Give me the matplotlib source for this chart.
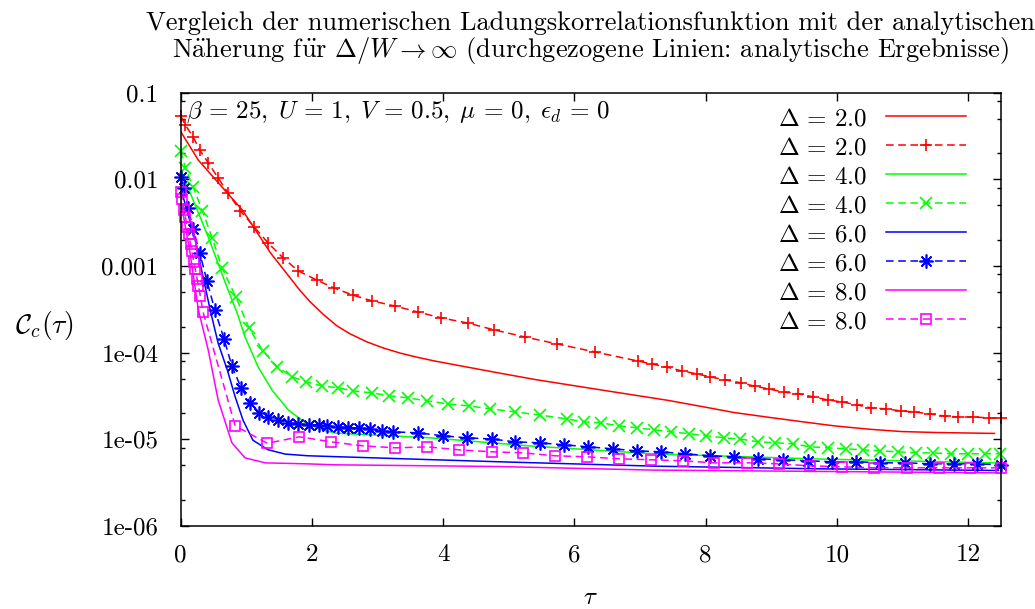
import matplotlib
matplotlib.use("Agg")
import matplotlib.pyplot as plt
from matplotlib.ticker import FixedLocator, NullFormatter

plt.rcParams["font.family"] = ["cmr10", "DejaVu Serif"]
plt.rcParams["mathtext.fontset"] = "cm"
plt.rcParams["axes.unicode_minus"] = False
plt.rcParams["font.size"] = 18

# analytic curves (solid) and numerical data (dashed + points), C_c(tau)
tau_a2 = [0.0, 0.27, 0.94, 1.37, 1.82, 1.97, 2.18, 2.38, 2.58, 2.84, 3.09, 3.35, 3.60,
          3.86, 4.11, 4.37, 4.87, 5.40, 5.90, 6.40, 6.91, 7.42, 7.93, 8.43, 8.95, 9.46,
          9.96, 10.48, 10.98, 11.49, 12.40]
c_a2 = [3.55e-2, 1.66e-2, 4.42e-3, 1.41e-3, 5.2e-4, 3.88e-4, 2.73e-4, 2.04e-4, 1.65e-4,
        1.33e-4, 1.13e-4, 9.86e-5, 8.87e-5, 8.04e-5, 7.41e-5, 6.81e-5, 5.79e-5, 4.90e-5,
        4.27e-5, 3.72e-5, 3.24e-5, 2.82e-5, 2.40e-5, 2.04e-5, 1.80e-5, 1.60e-5, 1.43e-5,
        1.31e-5, 1.23e-5, 1.20e-5, 1.17e-5]

tau_n2 = [0.0, 0.07, 0.19, 0.29, 0.42, 0.57, 0.72, 0.91, 1.12, 1.33, 1.56, 1.79, 2.07,
          2.33, 2.63, 2.92, 3.26, 3.61, 3.97, 4.37, 4.78, 5.24, 5.74, 6.31, 6.97, 7.18,
          7.41, 7.64, 7.86, 8.07, 8.30, 8.53, 8.75, 8.97, 9.19, 9.41, 9.63, 9.86, 10.08,
          10.30, 10.52, 10.74, 10.97, 11.18, 11.41, 11.64, 11.85, 12.08, 12.31, 12.50]
c_n2 = [5.38e-2, 4.24e-2, 3.08e-2, 2.18e-2, 1.55e-2, 1.04e-2, 6.97e-3, 4.32e-3, 2.82e-3,
        1.85e-3, 1.24e-3, 8.8e-4, 6.9e-4, 5.6e-4, 4.6e-4, 3.95e-4, 3.46e-4, 2.95e-4,
        2.52e-4, 2.2e-4, 1.83e-4, 1.52e-4, 1.26e-4, 1.02e-4, 8.0e-5, 7.4e-5, 6.8e-5,
        6.15e-5, 5.7e-5, 5.25e-5, 4.85e-5, 4.5e-5, 4.1e-5, 3.8e-5, 3.5e-5, 3.35e-5,
        3.1e-5, 2.85e-5, 2.7e-5, 2.5e-5, 2.3e-5, 2.25e-5, 2.13e-5, 2.07e-5, 1.96e-5,
        1.86e-5, 1.81e-5, 1.81e-5, 1.77e-5, 1.77e-5]

tau_a4 = [0.0, 0.42, 0.68, 0.86, 0.98, 1.18, 1.39, 1.64, 1.90, 2.16, 2.36, 3.81, 5.33,
          7.24, 9.71, 12.49]
c_a4 = [1.29e-2, 2.16e-3, 6.37e-4, 2.87e-4, 1.52e-4, 6.84e-5, 3.72e-5, 2.18e-5, 1.55e-5,
        1.28e-5, 1.18e-5, 1.04e-5, 8.38e-6, 6.78e-6, 5.93e-6, 5.33e-6]

tau_n4 = [0.0, 0.07, 0.19, 0.33, 0.48, 0.63, 0.84, 1.04, 1.25, 1.47, 1.70, 1.91, 2.16,
          2.40, 2.63, 2.91, 3.18, 3.46, 3.76, 4.07, 4.39, 4.72, 5.09, 5.47, 5.88, 6.14,
          6.40, 6.68, 6.95, 7.21, 7.47, 7.75, 8.00, 8.28, 8.52, 8.80, 9.06, 9.33, 9.59,
          9.86, 10.13, 10.39, 10.66, 10.93, 11.20, 11.47, 11.73, 11.99, 12.25, 12.49]
c_n4 = [2.13e-2, 1.36e-2, 8.17e-3, 4.33e-3, 2.11e-3, 9.5e-4, 4.40e-4, 1.93e-4, 1.05e-4,
        6.85e-5, 5.26e-5, 4.60e-5, 4.14e-5, 3.93e-5, 3.62e-5, 3.44e-5, 3.18e-5, 3.01e-5,
        2.78e-5, 2.56e-5, 2.43e-5, 2.25e-5, 2.07e-5, 1.91e-5, 1.72e-5, 1.59e-5, 1.55e-5,
        1.43e-5, 1.36e-5, 1.29e-5, 1.22e-5, 1.16e-5, 1.10e-5, 1.04e-5, 1.01e-5, 9.35e-6,
        9.12e-6, 8.87e-6, 8.20e-6, 7.98e-6, 7.78e-6, 7.57e-6, 7.36e-6, 7.18e-6, 6.98e-6,
        6.98e-6, 6.81e-6, 6.81e-6, 6.81e-6, 6.81e-6]

tau_a6 = [0.0, 0.22, 0.45, 0.57, 0.71, 0.83, 0.95, 1.10, 1.33, 1.59, 1.94, 2.36, 4.88,
          7.24, 9.71, 12.46]
c_a6 = [7.94e-3, 2.00e-3, 3.09e-4, 1.29e-4, 6.31e-5, 3.09e-5, 1.66e-5, 9.77e-6, 7.59e-6,
        6.76e-6, 6.46e-6, 6.31e-6, 5.50e-6, 4.90e-6, 4.57e-6, 4.37e-6]

tau_n6 = [0.0, 0.05, 0.11, 0.19, 0.29, 0.40, 0.52, 0.66, 0.78, 0.92, 1.06, 1.20, 1.33,
          1.49, 1.64, 1.79, 1.95, 2.10, 2.23, 2.40, 2.55, 2.72, 2.89, 3.06, 3.23, 3.61,
          3.99, 4.36, 4.74, 5.09, 5.47, 5.84, 6.20, 6.58, 6.95, 7.32, 7.68, 8.07, 8.43,
          8.80, 9.18, 9.56, 9.93, 10.29, 10.66, 11.03, 11.41, 11.78, 12.14, 12.50]
c_n6 = [1.06e-2, 7.96e-3, 4.68e-3, 2.68e-3, 1.42e-3, 6.73e-4, 3.11e-4, 1.44e-4, 7.03e-5,
        3.93e-5, 2.64e-5, 2.02e-5, 1.82e-5, 1.67e-5, 1.55e-5, 1.51e-5, 1.47e-5, 1.47e-5,
        1.43e-5, 1.39e-5, 1.36e-5, 1.36e-5, 1.32e-5, 1.25e-5, 1.22e-5, 1.19e-5, 1.10e-5,
        1.04e-5, 1.01e-5, 9.35e-6, 9.12e-6, 8.65e-6, 8.20e-6, 7.78e-6, 7.36e-6, 7.18e-6,
        6.81e-6, 6.46e-6, 6.28e-6, 5.96e-6, 5.81e-6, 5.65e-6, 5.51e-6, 5.51e-6, 5.36e-6,
        5.36e-6, 5.22e-6, 5.22e-6, 5.22e-6, 5.08e-6]

tau_a8 = [0.0, 0.14, 0.27, 0.42, 0.57, 0.78, 0.98, 1.29, 1.94, 2.36, 4.82, 7.17, 12.46]
c_a8 = [5.75e-3, 1.45e-3, 3.09e-4, 1.07e-4, 2.85e-5, 9.12e-6, 6.11e-6, 5.35e-6, 5.21e-6,
        5.08e-6, 4.86e-6, 4.42e-6, 4.10e-6]

tau_n8 = [0.0, 0.02, 0.05, 0.07, 0.10, 0.12, 0.15, 0.17, 0.20, 0.22, 0.25, 0.27, 0.30,
          0.34, 0.83, 1.32, 1.81, 2.29, 2.78, 3.27, 3.76, 4.24, 4.74, 5.22, 5.70, 6.19,
          6.68, 7.16, 7.65, 8.13, 8.63, 9.12, 9.59, 10.08, 10.57, 11.06, 11.55, 12.02,
          12.50]
c_n8 = [7.08e-3, 5.89e-3, 4.47e-3, 3.72e-3, 2.82e-3, 2.34e-3, 1.78e-3, 1.48e-3, 1.12e-3,
        9.33e-4, 7.08e-4, 5.89e-4, 4.47e-4, 2.95e-4, 1.43e-5, 9.0e-6, 1.07e-5, 9.35e-6,
        8.41e-6, 7.98e-6, 8.18e-6, 7.57e-6, 7.18e-6, 6.98e-6, 6.46e-6, 6.28e-6, 5.96e-6,
        5.81e-6, 5.65e-6, 5.36e-6, 5.36e-6, 5.21e-6, 4.94e-6, 4.82e-6, 4.69e-6, 4.69e-6,
        4.69e-6, 4.69e-6, 4.69e-6]

deltas = ["2.0", "4.0", "6.0", "8.0"]
colors = ["#ff0000", "#00ff00", "#0000ff", "#ff00ff"]
markers = ["+", "x", (8, 2, 0), "s"]
marker_sizes = [9, 8, 10, 7]
analytic = [(tau_a2, c_a2), (tau_a4, c_a4), (tau_a6, c_a6), (tau_a8, c_a8)]
numeric = [(tau_n2, c_n2), (tau_n4, c_n4), (tau_n6, c_n6), (tau_n8, c_n8)]

y_ticks = [1e-6, 1e-5, 1e-4, 1e-3, 1e-2, 1e-1]
y_labels = ["1e-06", "1e-05", "1e-04", "0.001", "0.01", "0.1"]
x_ticks = [0, 2, 4, 6, 8, 10, 12]


def main() -> None:
    fig = plt.figure(figsize=(10.35, 6.09), dpi=100)
    ax = fig.add_axes([0.1746, 0.1363, 0.7926, 0.7115])

    for d, col, mk, ms, (ta, ca), (tn, cn) in zip(
        deltas, colors, markers, marker_sizes, analytic, numeric
    ):
        label = rf"$\Delta\,=\,{d}$"
        ax.plot(ta, ca, color=col, lw=1.1, label=label)
        ax.plot(tn, cn, color=col, lw=1.1, ls=(0, (5, 3)), marker=mk,
                ms=ms, mew=1.2, mfc="none", label=label, clip_on=False)

    ax.set_yscale("log")
    ax.set_xlim(0, 12.5)
    ax.set_ylim(1e-6, 0.1)

    ax.yaxis.set_major_locator(FixedLocator(y_ticks))
    ax.set_yticklabels(y_labels)
    minors = [k * 10.0 ** n for n in range(-6, -1) for k in (2, 5, 8)]
    ax.yaxis.set_minor_locator(FixedLocator(minors))
    ax.yaxis.set_minor_formatter(NullFormatter())
    ax.set_xticks(x_ticks)
    ax.set_xticklabels([str(t) for t in x_ticks])

    ax.tick_params(which="both", direction="in", top=True, right=True, width=1.0)
    ax.tick_params(which="major", length=6, labelsize=18)
    ax.tick_params(axis="y", which="major", pad=16)
    ax.tick_params(axis="x", which="major", pad=13)
    ax.tick_params(which="minor", length=3)
    for s in ax.spines.values():
        s.set_linewidth(1.1)

    ax.text(0.006, 0.985,
            r"$\beta\,=\,25,\; U\,=\,1,\; V\,=\,0.5,\; \mu\,=\,0,\; \epsilon_d\,=\,0$",
            transform=ax.transAxes, ha="left", va="top", fontsize=18)

    ax.legend(loc="upper right", frameon=False, markerfirst=False, numpoints=1,
              handlelength=3.2, handletextpad=0.75, labelspacing=0.26,
              borderaxespad=0.2, bbox_to_anchor=(0.975, 1.0), fontsize=18)

    ax.set_title("Vergleich der numerischen Ladungskorrelationsfunktion mit der analytischen\n"
                 r"N$\ddot{\mathrm{a}}$herung f$\ddot{\mathrm{u}}$r $\Delta/W \rightarrow \infty$"
                 " (durchgezogene Linien: analytische Ergebnisse)",
                 fontsize=19, pad=26, linespacing=1.0)

    fig.text(0.043, 0.466, r"$\mathcal{C}_c(\tau)$", ha="center", va="center", fontsize=20)
    fig.text(0.570, 0.018, r"$\tau$", ha="center", va="center", fontsize=18)

    fig.savefig("out.png", dpi=100)


if __name__ == "__main__":
    main()
